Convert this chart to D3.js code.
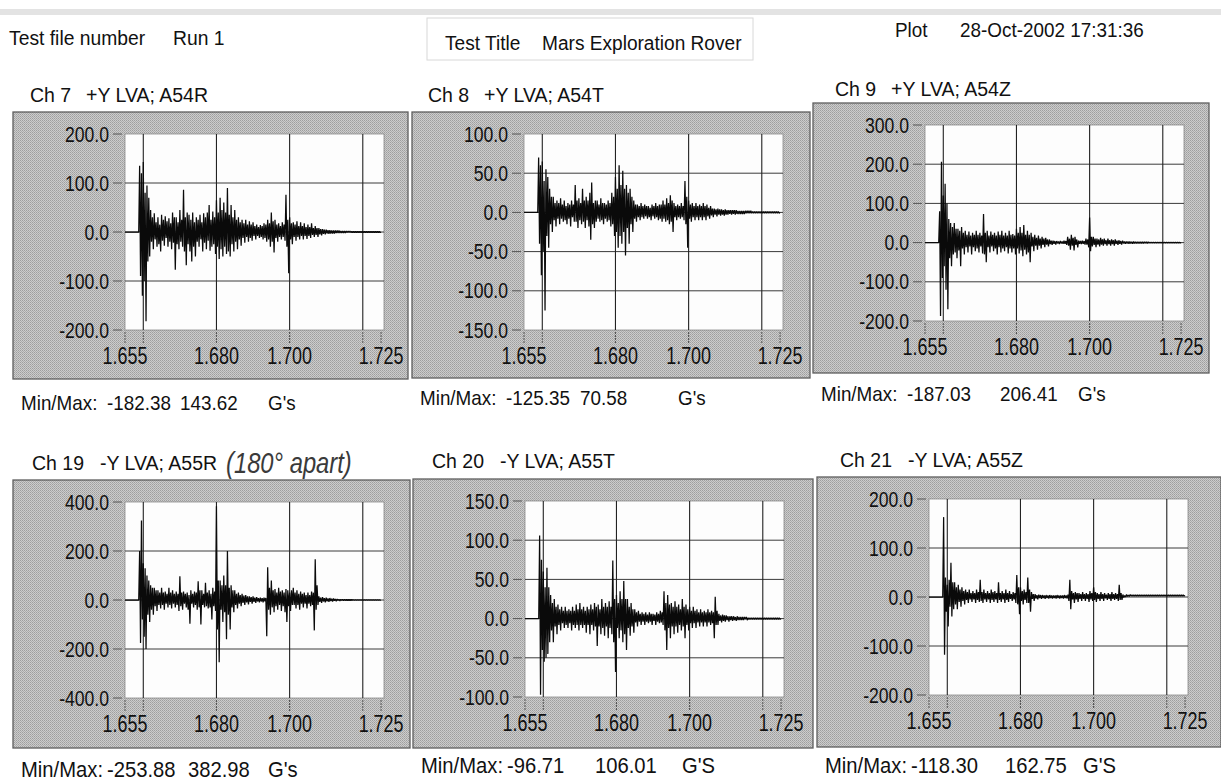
<!DOCTYPE html>
<html>
<head>
<meta charset="utf-8">
<script src="https://cdn.jsdelivr.net/npm/d3@7"></script>
<style>
  body { margin: 0; background: #fff; }
  text { font-family: "Liberation Sans", Arial, sans-serif; fill: #111; white-space: pre; }
</style>
</head>
<body>
<svg id="page" width="1221" height="782"></svg>
<script>
// one reading every 0.25 ms, starting at 1.655 s (8 readings = 2 ms per row below)
var sampleStart = 1.655, sampleStep = 0.00025;

var channelNames = ["Ch 7", "Ch 8", "Ch 9", "Ch 19", "Ch 20", "Ch 21"];
var channelDesc = ["+Y LVA; A54R", "+Y LVA; A54T", "+Y LVA; A54Z", "-Y LVA; A55R", "-Y LVA; A55T", "-Y LVA; A55Z"];
var yDomains = [[-200, 200], [-150, 100], [-200, 300], [-400, 400], [-100, 150], [-200, 200]];
var yTickSteps = [100, 50, 100, 200, 50, 100];
var xTickLabels = [1.655, 1.680, 1.700, 1.725];
var xGridLines = [1.660, 1.680, 1.700, 1.720];
var minTexts = ["-182.38", "-125.35", "-187.03", "-253.88", "-96.71", "-118.30"];
var maxTexts = ["143.62", "70.58", "206.41", "382.98", "106.01", "162.75"];
var unitTexts = ["G's", "G's", "G's", "G's", "G'S", "G'S"];

// G values
var ch7 = [
  0,0,0,0,0,0,0,0,  0,0,0,0,0,0,0,0,
  135,-90,120,-130,143,-100,80,-182,  95,-60,70,-50,45,-20,30,-35,
  38,-15,20,-30,30,-25,15,-40,  35,-18,25,-28,32,-12,22,-30,
  28,-20,18,-35,40,-22,30,-77,  30,-25,20,-35,45,-20,25,-30,
  86,-40,30,-68,40,-25,35,-40,  25,-60,40,-30,20,-50,30,-20,
  25,-30,35,-15,20,-40,38,-22,  30,-35,40,-18,55,-38,25,-30,
  42,-25,30,-45,65,-30,40,-55,  70,-35,45,-50,60,-30,40,-45,
  90,-40,35,-50,55,-25,30,-40,  45,-20,25,-35,30,-15,20,-28,
  25,-12,18,-22,25,-10,15,-20,  22,-12,15,-18,20,-8,12,-15,
  15,-8,10,-12,14,-10,12,-15,  18,-12,15,-20,25,-15,18,-30,
  40,-20,22,-42,25,-12,15,-20,  18,-10,12,-15,20,-10,15,-18,
  76,-30,25,-84,30,-15,18,-25,  20,-10,15,-18,22,-10,12,-15,
  20,-8,12,-15,18,-8,10,-14,  15,-8,10,-12,18,-6,8,-10,
  12,-6,8,-10,8,-5,6,-7,  6,-4,5,-5,5,-3,4,-4,
  4,-3,3,-3,3,-3,3,-2,  3,-2,3,-2,2,-2,2,-2,
  2,-2,2,-1,2,-1,2,-1,  1,-1,1,-1,1,-1,1,-1,
  1,-1,1,-1,1,-1,1,-1,  1,-1,1,-1,1,-1,1,-1,
  1,-1,1,-1,1,-1,1,-1,  0];
var ch8 = [
  0,0,0,0,0,0,0,0,  0,0,0,0,0,0,0,0,
  70,-40,60,-80,65,-50,40,-125,  55,-30,45,-45,30,-15,20,-25,
  20,-10,12,-18,15,-8,12,-15,  18,-8,10,-12,15,-10,8,-15,
  12,-8,10,-18,15,-6,10,-12,  35,-12,15,-20,18,-10,12,-15,
  30,-12,15,-20,20,-10,15,-18,  25,-35,38,-15,12,-20,15,-12,
  15,-8,10,-12,18,-10,12,-15,  12,-8,10,-12,15,-10,12,-18,
  25,-15,20,-30,45,-25,30,-45,  60,-30,35,-40,53,-25,30,-55,
  35,-20,25,-40,30,-15,20,-25,  15,-8,10,-12,10,-6,8,-10,
  12,-6,8,-8,10,-5,8,-8,  8,-6,6,-10,10,-5,8,-8,
  12,-6,8,-10,10,-8,10,-12,  15,-8,10,-12,18,-10,12,-15,
  22,-12,15,-25,12,-6,8,-10,  10,-6,8,-8,12,-6,8,-10,
  40,-15,20,-45,15,-8,10,-12,  12,-6,8,-10,12,-6,8,-10,
  10,-6,8,-10,12,-6,8,-10,  10,-5,6,-8,8,-4,5,-6,
  5,-3,4,-5,5,-3,4,-4,  4,-3,3,-4,4,-3,3,-3,
  3,-2,3,-3,3,-2,3,-3,  3,-2,2,-2,2,-2,2,-2,
  2,-2,2,-1,2,-1,2,-1,  2,-1,1,-1,1,-1,1,-1,
  1,-1,1,-1,1,-1,1,-1,  1,-1,1,-1,1,-1,1,-1,
  1,-1,1,-1,1,-1,1,-1,  0];
var ch9 = [
  0,0,0,0,0,0,0,0,  0,0,0,0,0,0,0,0,
  80,-187,206,-90,120,-60,150,-120,  100,-170,60,-40,50,-60,40,-30,
  50,-25,35,-40,35,-20,30,-60,  40,-15,25,-30,30,-12,20,-25,
  28,-10,18,-30,25,-12,20,-22,  30,-15,20,-25,25,-10,18,-28,
  73,-30,25,-50,30,-12,18,-25,  28,-10,20,-22,25,-15,18,-30,
  28,-12,20,-25,30,-15,18,-22,  25,-12,18,-28,30,-15,20,-25,
  22,-15,18,-30,35,-15,25,-28,  40,-20,25,-35,45,-18,20,-30,
  30,-25,20,-50,25,-10,15,-22,  20,-8,12,-18,18,-8,10,-15,
  15,-6,10,-12,12,-5,8,-10,  8,-4,5,-6,5,-3,4,-5,
  4,-2,3,-4,4,-2,3,-3,  5,-3,4,-6,15,-8,10,-18,
  20,-8,12,-20,15,-6,8,-12,  5,-3,4,-4,5,-3,4,-5,
  10,-5,8,-12,64,-22,15,-10,  15,-6,10,-12,10,-5,8,-10,
  12,-5,8,-8,10,-4,6,-8,  10,-4,6,-8,8,-4,6,-8,
  8,-3,5,-6,6,-3,4,-5,  5,-2,3,-3,3,-2,3,-3,
  3,-2,2,-3,3,-2,2,-2,  2,-2,2,-2,2,-2,2,-2,
  2,-1,2,-2,2,-1,1,-1,  1,-1,1,-1,1,-1,1,-1,
  1,-1,1,-1,1,-1,1,-1,  1,-1,1,-1,1,-1,1,-1,
  1,-1,1,-1,1,-1,1,-1,  0];
var ch19 = [
  0,0,0,0,0,0,0,0,  0,0,0,0,0,0,0,0,
  200,-175,324,-80,150,-150,130,-200,  100,-60,80,-90,60,-40,50,-60,
  50,-25,40,-45,40,-20,30,-35,  50,-20,30,-40,35,-15,25,-30,
  50,-20,30,-35,40,-15,25,-30,  35,-20,25,-45,97,-25,30,-40,
  35,-15,25,-30,30,-40,20,-97,  40,-15,25,-30,35,-20,30,-40,
  76,-30,40,-100,40,-20,25,-30,  70,-25,30,-35,40,-30,25,-80,
  50,-25,35,-45,383,-120,80,-254,  80,-40,60,-90,100,-50,60,-160,
  200,-60,50,-120,60,-30,40,-50,  40,-20,25,-35,30,-15,20,-25,
  25,-12,18,-20,20,-10,15,-18,  15,-8,12,-15,15,-8,10,-12,
  12,-6,8,-10,10,-6,8,-10,  10,-5,8,-148,134,-40,50,-60,
  80,-30,40,-50,45,-25,30,-40,  50,-20,35,-45,40,-25,30,-50,
  45,-90,40,-25,30,-45,40,-20,  50,-20,30,-35,40,-20,25,-40,
  35,-15,25,-30,30,-15,20,-35,  30,-15,20,-25,35,-20,30,-124,
  166,-40,60,-20,15,-8,10,-12,  12,-6,8,-10,10,-5,6,-8,
  8,-4,5,-6,6,-3,4,-5,  4,-2,3,-4,3,-2,3,-3,
  3,-2,2,-2,2,-2,2,-2,  2,-1,1,-1,1,-1,1,-1,
  1,-1,1,-1,1,-1,1,-1,  1,-1,1,-1,1,-1,1,-1,
  1,-1,1,-1,1,-1,1,-1,  0];
var ch20 = [
  0,0,0,0,0,0,0,0,  0,0,0,0,0,0,0,0,
  106,-97,75,-40,60,-55,40,-50,  65,-45,40,-30,30,-15,20,-30,
  25,-10,15,-20,18,-8,12,-15,  15,-6,10,-12,15,-8,10,-12,
  12,-6,10,-15,15,-8,10,-12,  18,-8,12,-15,20,-8,12,-12,
  15,-8,10,-18,15,-8,12,-20,  18,-8,12,-15,20,-10,15,-35,
  18,-10,12,-20,25,-12,15,-22,  20,-10,15,-25,22,-12,15,-20,
  74,-30,25,-68,30,-12,20,-25,  35,-15,25,-30,48,-20,25,-40,
  25,-12,15,-22,20,-10,12,-18,  12,-5,8,-10,10,-4,6,-8,
  8,-4,6,-8,8,-4,5,-6,  8,-4,6,-8,6,-3,5,-8,
  8,-4,6,-6,10,-5,8,-8,  35,-15,20,-40,30,-12,18,-25,
  20,-10,15,-20,22,-10,15,-18,  18,-8,12,-15,25,-10,15,-25,
  18,-8,12,-15,15,-6,10,-12,  15,-6,10,-12,12,-5,8,-10,
  12,-5,8,-10,10,-5,8,-10,  12,-5,8,-8,10,-6,8,-25,
  28,-8,10,-8,6,-3,4,-5,  5,-3,4,-4,4,-2,3,-4,
  3,-2,3,-3,3,-2,2,-3,  3,-2,2,-2,2,-2,2,-2,
  2,-1,2,-2,1,-1,1,-1,  1,-1,1,-1,1,-1,1,-1,
  1,-1,1,-1,1,-1,1,-1,  1,-1,1,-1,1,-1,1,-1,
  1,-1,1,-1,1,-1,1,-1,  0];
var ch21 = [
  0,0,0,0,0,0,0,0,  0,0,0,0,0,0,0,0,
  163,-118,40,-30,25,-60,35,-20,  70,-40,30,-25,30,-15,20,-25,
  25,-10,15,-20,20,-8,12,-15,  15,-6,10,-12,15,-5,8,-10,
  12,-5,8,-12,15,-6,10,-10,  35,-8,10,-12,15,-5,8,-10,
  12,-5,8,-12,15,-6,10,-10,  12,-5,8,-12,30,-6,8,-10,
  12,-5,8,-12,15,-6,8,-10,  12,-4,6,-8,10,-5,8,-12,
  45,-15,20,-35,20,-8,12,-15,  15,-6,10,-12,40,-12,15,-30,
  10,-4,6,-8,6,-3,4,-5,  5,-2,4,-4,4,-2,3,-4,
  4,-2,3,-3,4,-2,3,-3,  3,-2,3,-3,4,-2,3,-3,
  3,-2,3,-3,4,-2,3,-3,  5,-8,35,-25,12,-5,8,-12,
  10,-5,8,-10,8,-4,6,-8,  10,-4,6,-8,8,-4,6,-10,
  12,-5,8,-8,20,-6,10,-10,  8,-4,6,-8,10,-4,6,-8,
  8,-3,5,-6,8,-4,6,-8,  10,-4,6,-6,8,-4,6,-8,
  25,-6,8,-6,5,-1,3,0,  5,1,4,1,5,2,4,2,
  4,2,4,2,4,2,4,2,  4,2,4,2,4,2,4,2,
  4,2,4,2,4,2,4,2,  4,2,4,2,4,2,4,2,
  4,2,4,2,4,2,4,2,  4,2,4,2,4,2,4,2,
  4,2,4,2,4,2,4,2,  3];
var traces = [ch7, ch8, ch9, ch19, ch20, ch21];

// where each printed panel sits on the scanned page
var boxes = [
  {x: 13,  y: 112, w: 395, h: 267, tx: 30,  ty: 102, mx: 167, ux: 255, my: 410, fs: 20.5},
  {x: 412, y: 112, w: 398, h: 266, tx: 428, ty: 102, mx: 168, ux: 266, my: 405, fs: 20.5},
  {x: 813, y: 103, w: 396, h: 270, tx: 835, ty: 96,  mx: 187, ux: 265, my: 401, fs: 20.5},
  {x: 13,  y: 480, w: 397, h: 268, tx: 32,  ty: 470, mx: 175, ux: 255, my: 777, fs: 22},
  {x: 413, y: 479, w: 400, h: 269, tx: 432, ty: 468, mx: 182, ux: 269, my: 773, fs: 22},
  {x: 817, y: 477, w: 404, h: 270, tx: 840, ty: 467, mx: 188, ux: 266, my: 773, fs: 22}
];

var svg = d3.select("#page");
var defs = svg.append("defs");

// halftone grey of the printout
var pat = defs.append("pattern").attr("id", "stipple")
  .attr("width", 2).attr("height", 2).attr("patternUnits", "userSpaceOnUse");
pat.append("rect").attr("width", 2).attr("height", 2).attr("fill", "#cccccc");
pat.append("rect").attr("width", 1).attr("height", 1).attr("fill", "#9e9e9e");
pat.append("rect").attr("x", 1).attr("y", 1).attr("width", 1).attr("height", 1).attr("fill", "#acacac");

function txt(g, x, y, s, size, anchor, sx) {
  return g.append("text")
    .attr("transform", "translate(" + x + "," + y + ") scale(" + (sx || 1) + ",1)")
    .attr("font-size", size)
    .attr("text-anchor", anchor || "start")
    .text(s);
}

// scan shadow along the top edge
svg.append("rect").attr("x", 0).attr("y", 9).attr("width", 1221).attr("height", 6).attr("fill", "#e3e3e3");

// page header
var head = svg.append("g");
txt(head, 9, 45, "Test file number", 21, "start", 0.92);
txt(head, 173, 45, "Run 1", 21, "start", 0.92);
head.append("rect").attr("x", 427).attr("y", 18).attr("width", 326).attr("height", 42)
  .attr("fill", "none").attr("stroke", "#d8d8d8");
txt(head, 445, 50, "Test Title", 21, "start", 0.91);
txt(head, 542, 50, "Mars Exploration Rover", 21, "start", 0.91);
txt(head, 895, 37, "Plot", 21, "start", 0.9);
txt(head, 960, 37, "28-Oct-2002 17:31:36", 21, "start", 0.9);

traces.forEach(function (values, k) {
  var b = boxes[k];
  var g = svg.append("g");

  txt(g, b.tx, b.ty, channelNames[k], 21, "start", 0.93);
  txt(g, b.tx + (channelNames[k].length > 4 ? 68 : 56), b.ty, channelDesc[k], 21, "start", 0.93);

  g.append("rect").attr("x", b.x).attr("y", b.y).attr("width", b.w).attr("height", b.h)
    .attr("fill", "url(#stipple)").attr("stroke", "#5e5e5e").attr("stroke-width", 1.3);

  var pl = b.x + 112, pt = b.y + 22, pw = 259, ph = 196;
  var x = d3.scaleLinear().domain([1.655, 1.7258]).range([pl, pl + pw]);
  var y = d3.scaleLinear().domain(yDomains[k]).range([pt + ph, pt]);

  g.append("rect").attr("x", pl).attr("y", pt).attr("width", pw).attr("height", ph)
    .attr("fill", "#fdfdfd").attr("stroke", "#8a8a8a").attr("stroke-width", 0.8);

  var yt = d3.range(yDomains[k][0], yDomains[k][1] + 1e-9, yTickSteps[k]);
  yt.forEach(function (v) {
    var yy = y(v);
    if (v > yDomains[k][0] && v < yDomains[k][1]) {
      g.append("line").attr("x1", pl).attr("x2", pl + pw).attr("y1", yy).attr("y2", yy)
        .attr("stroke", "#3a3a3a").attr("stroke-width", 1);
    }
    g.append("line").attr("x1", pl - 12).attr("x2", pl - 3).attr("y1", yy).attr("y2", yy)
      .attr("stroke", "#555").attr("stroke-width", 1);
    txt(g, pl - 16, yy + 7.5, v.toFixed(1), 22, "end", 0.8);
  });

  xGridLines.forEach(function (t) {
    g.append("line").attr("x1", x(t)).attr("x2", x(t)).attr("y1", pt).attr("y2", pt + ph)
      .attr("stroke", "#222").attr("stroke-width", 1.1);
  });
  xGridLines.concat(xTickLabels).forEach(function (t) {
    g.append("line").attr("x1", x(t)).attr("x2", x(t)).attr("y1", pt + ph + 2).attr("y2", pt + ph + 14)
      .attr("stroke", "#555").attr("stroke-width", 1).attr("stroke-dasharray", "2,1");
  });
  xTickLabels.forEach(function (t) {
    txt(g, x(t), pt + ph + 34, t.toFixed(3), 23, "middle", 0.78);
  });

  var clipId = "clip" + k;
  defs.append("clipPath").attr("id", clipId).append("rect")
    .attr("x", pl).attr("y", pt).attr("width", pw).attr("height", ph);

  var line = d3.line()
    .x(function (v, i) { return x(sampleStart + i * sampleStep); })
    .y(function (v) { return y(v); });

  g.append("path").datum(values)
    .attr("clip-path", "url(#" + clipId + ")")
    .attr("d", line)
    .attr("fill", "none").attr("stroke", "#0a0a0a").attr("stroke-width", 1.25)
    .attr("stroke-linejoin", "bevel");

  txt(g, b.x + 8, b.my, "Min/Max:", b.fs, "start", 0.92);
  txt(g, b.x + 94, b.my, minTexts[k], b.fs, "start", 0.92);
  txt(g, b.x + b.mx, b.my, maxTexts[k], b.fs, "start", 0.92);
  txt(g, b.x + b.ux, b.my, unitTexts[k], b.fs, "start", 0.92);
});

// handwritten note beside channel 19
txt(svg, 226, 473, "(180\u00b0 apart)", 29, "start", 0.82)
  .attr("font-family", "\"DejaVu Serif\", serif").attr("font-style", "italic")
  .style("fill", "#3a3a3a");
</script>
</body>
</html>
